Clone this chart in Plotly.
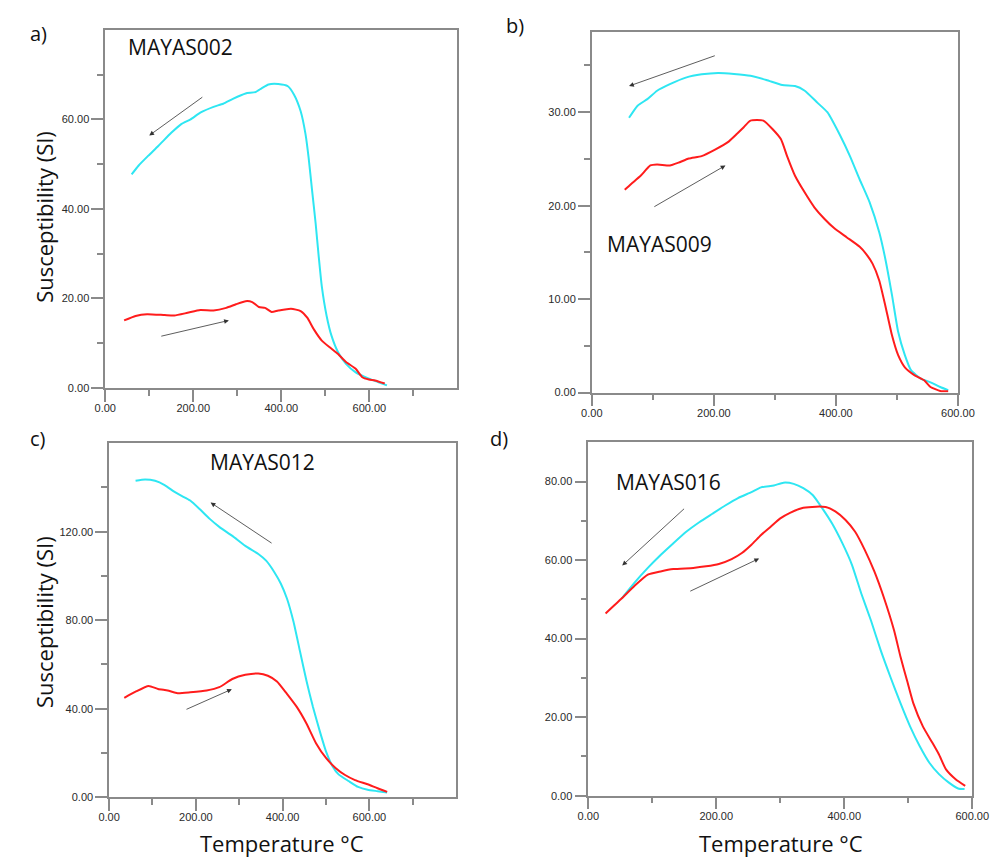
import plotly.graph_objects as go

# ---------------- data (temperature °C, susceptibility SI) ----------------
a_heat_T = [43, 69, 95, 135, 157, 187, 216, 246, 275, 297, 319, 334, 349, 363, 378, 393, 422, 444, 459, 474, 492, 510, 529, 547, 569, 584, 599, 613, 635]
a_heat_k = [15.1, 16.1, 16.5, 16.3, 16.2, 16.8, 17.4, 17.3, 17.9, 18.7, 19.4, 19.2, 18.1, 17.9, 17.0, 17.3, 17.7, 17.2, 15.7, 13.1, 10.6, 9.1, 7.6, 5.8, 4.3, 2.4, 1.9, 1.7, 1.0]
a_cool_T = [60, 76, 98, 121, 150, 172, 194, 216, 246, 268, 290, 319, 341, 356, 371, 393, 415, 429, 444, 455, 462, 470, 478, 485, 492, 503, 514, 529, 547, 569, 599, 621, 640]
a_cool_k = [47.7, 49.7, 51.9, 54.1, 57.0, 58.9, 60.0, 61.5, 62.8, 63.5, 64.6, 65.8, 66.1, 67.0, 67.8, 67.9, 67.4, 65.5, 61.8, 56.7, 51.5, 44.1, 36.8, 29.4, 22.7, 16.1, 11.7, 8.0, 5.4, 3.5, 2.1, 1.3, 0.6]

b_heat_T = [54, 64, 80, 96, 107, 128, 142, 159, 180, 202, 223, 238, 249, 260, 281, 296, 310, 320, 333, 349, 365, 381, 397, 418, 439, 450, 460, 471, 481, 492, 502, 513, 529, 545, 555, 571, 584]
b_heat_k = [21.7, 22.3, 23.2, 24.3, 24.4, 24.3, 24.6, 25.05, 25.3, 26.0, 26.8, 27.7, 28.4, 29.1, 29.1, 28.2, 27.1, 25.3, 23.2, 21.4, 19.8, 18.6, 17.6, 16.6, 15.6, 14.8, 13.8, 12.0, 9.3, 6.1, 4.0, 2.7, 1.85, 1.3, 0.6, 0.18, 0.14]
b_cool_T = [61, 75, 91, 107, 128, 154, 180, 207, 233, 260, 286, 312, 333, 349, 370, 386, 407, 423, 439, 455, 471, 481, 492, 502, 513, 523, 539, 555, 571, 584]
b_cool_k = [29.4, 30.7, 31.4, 32.3, 33.0, 33.7, 34.05, 34.2, 34.1, 33.9, 33.45, 32.9, 32.8, 32.3, 31.0, 30.0, 27.5, 25.3, 22.8, 20.4, 17.15, 14.3, 10.4, 6.5, 4.0, 2.4, 1.5, 1.1, 0.6, 0.25]

c_heat_T = [35, 61, 91, 113, 135, 158, 187, 225, 254, 284, 314, 344, 366, 387, 410, 433, 455, 477, 500, 522, 544, 567, 596, 619, 641]
c_heat_k = [44.9, 47.7, 50.3, 48.9, 48.2, 47.0, 47.4, 48.2, 49.7, 53.4, 55.3, 55.9, 54.9, 52.3, 46.7, 40.7, 33.3, 24.4, 17.7, 13.2, 10.0, 7.7, 5.8, 4.0, 2.4]
c_cool_T = [61, 83, 106, 128, 150, 165, 187, 210, 232, 254, 284, 314, 344, 362, 381, 396, 410, 425, 440, 455, 470, 485, 500, 515, 529, 552, 574, 596, 619, 641]
c_cool_k = [143.0, 143.6, 143.0, 141.1, 138.1, 136.4, 134.1, 130.0, 125.8, 122.2, 118.1, 113.6, 109.9, 106.9, 101.7, 96.5, 89.8, 79.4, 66.0, 52.6, 40.7, 30.3, 20.7, 14.0, 10.3, 7.3, 4.6, 3.3, 2.7, 2.1]

d_heat_T = [27, 52, 72, 93, 113, 133, 164, 184, 204, 224, 240, 255, 270, 285, 300, 316, 336, 356, 371, 386, 402, 417, 432, 447, 462, 478, 488, 498, 508, 523, 538, 548, 559, 574, 589]
d_heat_k = [46.4, 50.2, 53.4, 56.3, 57.1, 57.7, 58.0, 58.4, 59.0, 60.25, 61.8, 63.9, 66.4, 68.5, 70.6, 72.1, 73.3, 73.6, 73.5, 72.4, 70.2, 67.2, 62.6, 57.1, 50.4, 42.0, 35.3, 29.4, 23.5, 17.6, 13.4, 10.5, 6.7, 4.2, 2.5]
d_cool_T = [52, 72, 93, 113, 133, 153, 174, 194, 214, 234, 255, 270, 290, 305, 321, 336, 351, 366, 381, 397, 412, 427, 442, 457, 472, 488, 503, 518, 533, 548, 563, 578, 588]
d_cool_k = [50.2, 54.2, 58.0, 61.3, 64.3, 67.2, 69.7, 71.8, 73.9, 75.8, 77.3, 78.5, 79.0, 79.7, 79.4, 78.3, 76.5, 73.1, 69.3, 64.3, 58.8, 51.3, 44.5, 37.0, 30.3, 23.5, 17.6, 12.6, 8.4, 5.5, 3.4, 1.85, 1.7]

# tick values (labelled major ticks and unlabelled minor ticks)
a_xticks, a_xminor = [0, 200, 400, 600], [100, 300, 500, 700]
a_yticks, a_yminor = [0, 20, 40, 60], [10, 30, 50, 70]
b_xticks, b_xminor = [0, 200, 400, 600], [100, 300, 500]
b_yticks, b_yminor = [0, 10, 20, 30], [5, 15, 25, 35]
c_xticks, c_xminor = [0, 200, 400, 600], [100, 300, 500, 700]
c_yticks, c_yminor = [0, 40, 80, 120], [20, 60, 100, 140]
d_xticks, d_xminor = [0, 200, 400, 600], [100, 300, 500]
d_yticks, d_yminor = [0, 20, 40, 60, 80], [10, 30, 50, 70]

sample_names = ["MAYAS002", "MAYAS009", "MAYAS012", "MAYAS016"]
panel_letters = ["a)", "b)", "c)", "d)"]
y_title = "Susceptibility (SI)"
x_title = "Temperature °C"

RED = "#ff1c1c"
CYAN = "#2ee6f2"
AX = "#8a8a8a"

W, H = 1000, 857

def px_x(p):
    return p / W

def px_y(p):
    return 1 - p / H

fig = go.Figure()

panels = [
    (a_heat_T, a_heat_k, a_cool_T, a_cool_k, (88.7, 451.0), (22.0, 382.7), [0, 800], [0, 80],
     a_xticks, a_xminor, a_yticks, a_yminor),
    (b_heat_T, b_heat_k, b_cool_T, b_cool_k, (589.3, 966.0), (24.0, 387.3), [0, 600], [0, 38.6],
     b_xticks, b_xminor, b_yticks, b_yminor),
    (c_heat_T, c_heat_k, c_cool_T, c_cool_k, (92.7, 449.7), (438.3, 794.7), [0, 800], [0, 160],
     c_xticks, c_xminor, c_yticks, c_yminor),
    (d_heat_T, d_heat_k, d_cool_T, d_cool_k, (585.7, 980.7), (437.3, 793.3), [0, 600], [0, 90],
     d_xticks, d_xminor, d_yticks, d_yminor),
]

for i, (hT, hk, cT, ck, xd, yd, xr, yr, xt, xm, yt, ym) in enumerate(panels):
    n = "" if i == 0 else str(i + 1)
    xa, ya = "x" + n, "y" + n
    fig.add_trace(go.Scatter(x=cT, y=ck, mode="lines", xaxis=xa, yaxis=ya,
                             line=dict(color=CYAN, width=2, shape="spline", smoothing=0.5),
                             showlegend=False))
    fig.add_trace(go.Scatter(x=hT, y=hk, mode="lines", xaxis=xa, yaxis=ya,
                             line=dict(color=RED, width=2, shape="spline", smoothing=0.5),
                             showlegend=False))
    common = dict(showline=True, linecolor=AX, linewidth=1.5, mirror=True,
                  showgrid=False, zeroline=False, ticks="outside", ticklen=12,
                  tickcolor=AX, tickwidth=1.5, tickformat=".2f", tickmode="array",
                  tickfont=dict(family="Liberation Sans, Arial", size=11, color="#2a2a2a"))
    fig.layout["xaxis" + n] = dict(common, domain=[px_x(xd[0]), px_x(xd[1])], range=xr,
                                   tickvals=xt, anchor=ya, ticklabelstandoff=-3,
                                   minor=dict(tickmode="array", tickvals=xm, ticklen=6,
                                              ticks="outside", tickcolor=AX, tickwidth=1.5,
                                              showgrid=False))
    fig.layout["yaxis" + n] = dict(common, domain=[px_y(yd[1]), px_y(yd[0])], range=yr,
                                   tickvals=yt, anchor=xa,
                                   minor=dict(tickmode="array", tickvals=ym, ticklen=6,
                                              ticks="outside", tickcolor=AX, tickwidth=1.5,
                                              showgrid=False))

# arrows: (panel, tail x, tail y, head x, head y)
arrows = [
    (0, 224, 65.2, 100, 56.4), (0, 124, 11.5, 281, 15.1),
    (1, 204, 36.1, 61, 32.8), (1, 100, 19.8, 219, 24.3),
    (2, 378, 114.4, 234, 133.2), (2, 175, 39.4, 283, 48.8),
    (3, 152, 73.4, 53, 58.6), (3, 157, 51.9, 267, 60.4),
]
for p, tx, ty, hx, hy in arrows:
    n = "" if p == 0 else str(p + 1)
    fig.add_annotation(x=hx, y=hy, ax=tx, ay=ty, xref="x" + n, yref="y" + n,
                       axref="x" + n, ayref="y" + n, showarrow=True, text="",
                       arrowhead=2, arrowsize=1.2, arrowwidth=0.8, arrowcolor="#333")

# sample labels (data coords of left edge / vertical middle)
label_pos = [(47, 76.2), (21, 15.85), (228, 151.4), (40, 79.8)]
for p, (lx, ly) in enumerate(label_pos):
    n = "" if p == 0 else str(p + 1)
    fig.add_annotation(x=lx, y=ly, xref="x" + n, yref="y" + n, text=sample_names[p],
                       showarrow=False, xanchor="left", yanchor="middle",
                       font=dict(family="Open Sans", size=21, color="#111"))

# panel letters
letter_pos = [(20, 26), (510, 18), (20, 434), (494, 434)]
for p, (lx, ly) in enumerate(letter_pos):
    fig.add_annotation(x=px_x(lx), y=px_y(ly), xref="paper", yref="paper", text=panel_letters[p],
                       showarrow=False, xanchor="center", yanchor="middle",
                       font=dict(family="Open Sans", size=20, color="#111"))

# axis titles
for cy in (210, 618):
    fig.add_annotation(x=px_x(25), y=px_y(cy), xref="paper", yref="paper", text=y_title,
                       showarrow=False, textangle=-90, xanchor="center", yanchor="middle",
                       font=dict(family="Open Sans", size=22, color="#111"))
for cx in (271, 784):
    fig.add_annotation(x=px_x(cx), y=px_y(841), xref="paper", yref="paper", text=x_title,
                       showarrow=False, xanchor="center", yanchor="middle",
                       font=dict(family="Open Sans", size=22, color="#111"))

fig.update_layout(width=W, height=H, margin=dict(l=0, r=0, t=0, b=0),
                  paper_bgcolor="white", plot_bgcolor="white")

fig.write_html("out.html")
